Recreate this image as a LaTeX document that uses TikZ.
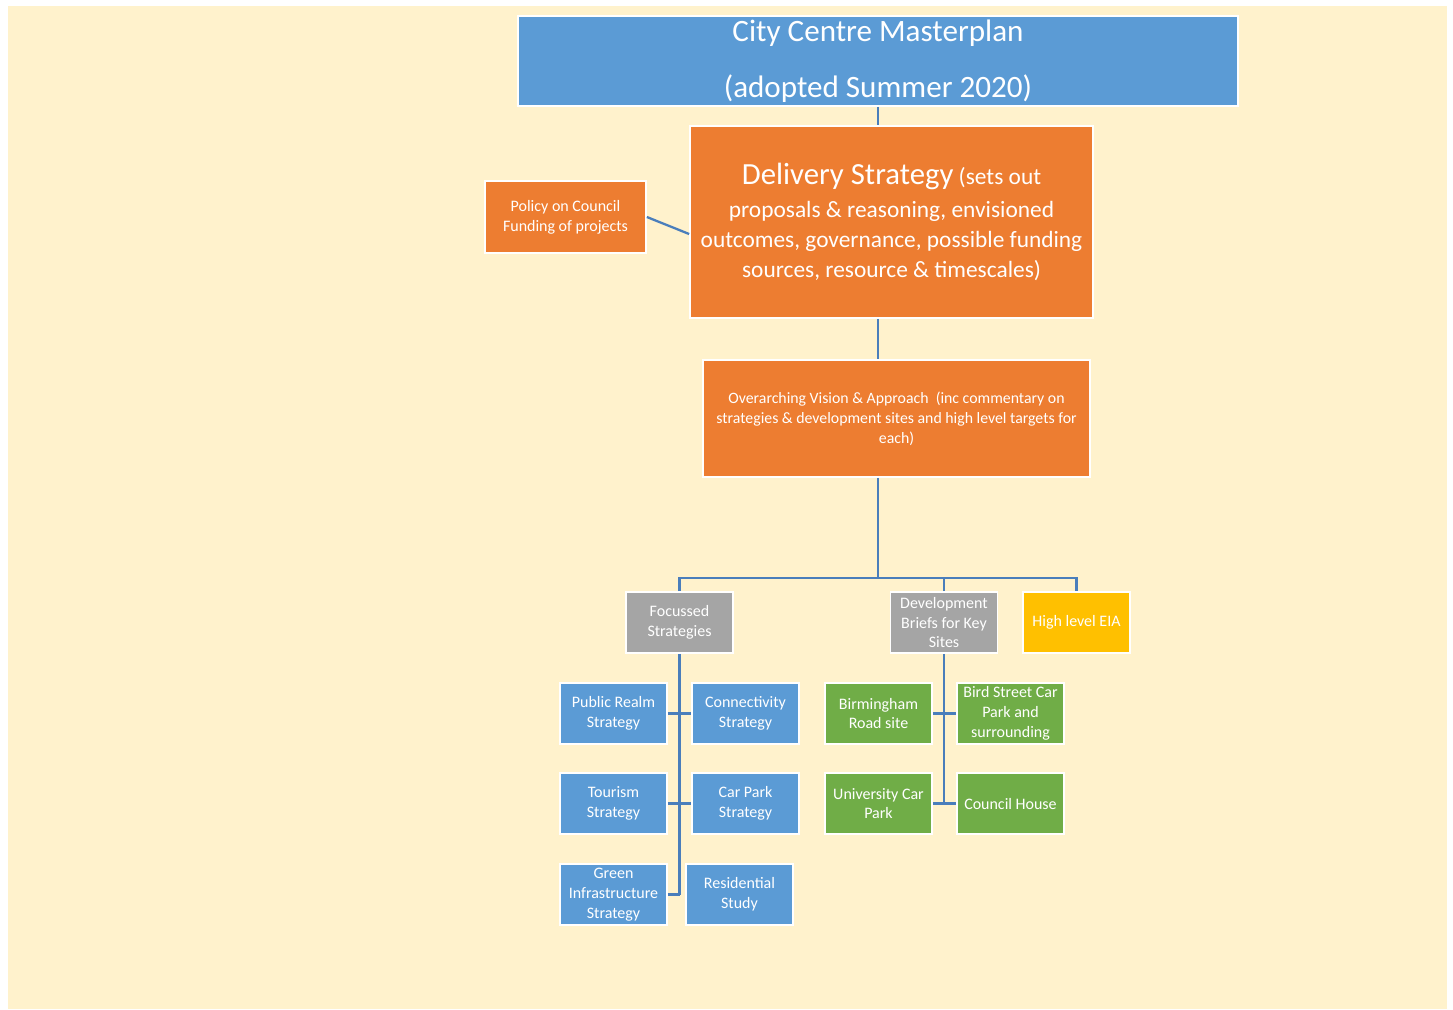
\documentclass[tikz,border=0pt]{standalone}
\usepackage{fontspec}
\setmainfont{Carlito}
\usepackage{xcolor}
\usetikzlibrary{positioning}
\definecolor{bgcream}{HTML}{FFF2CC}
\definecolor{boxblue}{HTML}{5B9BD5}
\definecolor{boxorange}{HTML}{ED7D31}
\definecolor{boxgray}{HTML}{A5A5A5}
\definecolor{boxgold}{HTML}{FFC000}
\definecolor{boxgreen}{HTML}{70AD47}
\definecolor{linkblue}{HTML}{4A7EBB}
\tikzstyle{box} = [rectangle, draw=white, line width=1pt, text=white, inner sep=0pt]
\tikzstyle{smallbox} = [box, minimum width=2.14cm, minimum height=1.22cm, font=\fontsize{9.1}{11.3}\selectfont]
\tikzstyle{strat} = [smallbox, fill=boxblue]
\tikzstyle{site} = [smallbox, fill=boxgreen]
\tikzstyle{link} = [draw=linkblue, line width=1.3pt]
\tikzset{every node/.style={align=center}}

\begin{document}
\begin{tikzpicture}[x=0.02cm, y=-0.02cm]
    \useasboundingbox (0,0) rectangle (1453,1009);
    \fill[white] (0,0) rectangle (1453,1009);
    \fill[bgcream] (8,6) rectangle (1447,1009);

    \node (plan)   [box, fill=boxblue, minimum width=14.4cm, minimum height=1.8cm, font=\fontsize{17.7}{32}\selectfont] at (878,61) {City Centre Masterplan\\(adopted Summer 2020)};
    \node (deliv)  [box, fill=boxorange, minimum width=8.06cm, minimum height=3.84cm, font=\fontsize{13.3}{17.3}\selectfont] at (891.5,222) {{\fontsize{17.5}{17.3}\selectfont Delivery Strategy} (sets out\\[0.05cm]proposals \& reasoning, envisioned\\outcomes, governance, possible funding\\sources, resource \& timescales)};
    \node (policy) [box, fill=boxorange, minimum width=3.22cm, minimum height=1.44cm, font=\fontsize{9.1}{11.3}\selectfont] at (565.5,217) {Policy on Council\\Funding of projects};
    \node (vision) [box, fill=boxorange, minimum width=7.74cm, minimum height=2.34cm, font=\fontsize{9}{11.3}\selectfont] at (896.5,418.5) {Overarching Vision \& Approach~ (inc commentary on\\strategies \& development sites and high level targets for\\each)};

    \node (focus)    [smallbox, fill=boxgray] at (679.5,622.5) {Focussed\\Strategies};
    \node (devbrief) [smallbox, fill=boxgray] at (944,622.5) {Development\\Briefs for Key\\Sites};
    \node (eia)      [smallbox, fill=boxgold] at (1076.5,622.5) {High level EIA};

    \node (pubrealm) [strat] at (613.5,713.5) {Public Realm\\Strategy};
    \node (connect)  [strat, right=0.465cm of pubrealm] {Connectivity\\Strategy};
    \node (tourism)  [strat, below=0.545cm of pubrealm] {Tourism\\Strategy};
    \node (carpark)  [strat, right=0.465cm of tourism] {Car Park\\Strategy};
    \node (green)    [strat, below=0.565cm of tourism] {Green\\Infrastructure\\Strategy};
    \node (resident) [strat, right=0.345cm of green] {Residential\\Study};

    \node (birm)     [site] at (878.5,713.5) {Birmingham\\Road site};
    \node (bird)     [site, right=0.465cm of birm] {Bird Street Car\\Park and\\surrounding};
    \node (univ)     [site, below=0.545cm of birm] {University Car\\Park};
    \node (council)  [site, right=0.465cm of univ] {Council House};

    \coordinate (bus) at (878,578);

    \draw [link] (plan.south) -- (plan.south |- deliv.north);
    \draw [link] (policy.east) -- ([yshift=-0.24cm]deliv.west);
    \draw [link] (plan.south |- deliv.south) -- (plan.south |- vision.north);
    \draw [link] (plan.south |- vision.south) -- (bus);
    \draw [link] (focus.north) |- (bus) -| (eia.north);
    \draw [link] (devbrief.north) -- (devbrief.north |- bus);

    \draw [link] (focus.south) -- (focus.south |- green.east);
    \draw [link] (pubrealm.east) -- (connect.west);
    \draw [link] (tourism.east) -- (carpark.west);
    \draw [link] (green.east) -- (focus.south |- green.east);

    \draw [link] (devbrief.south) -- (devbrief.south |- univ.east);
    \draw [link] (birm.east) -- (bird.west);
    \draw [link] (univ.east) -- (council.west);
\end{tikzpicture}
\end{document}
